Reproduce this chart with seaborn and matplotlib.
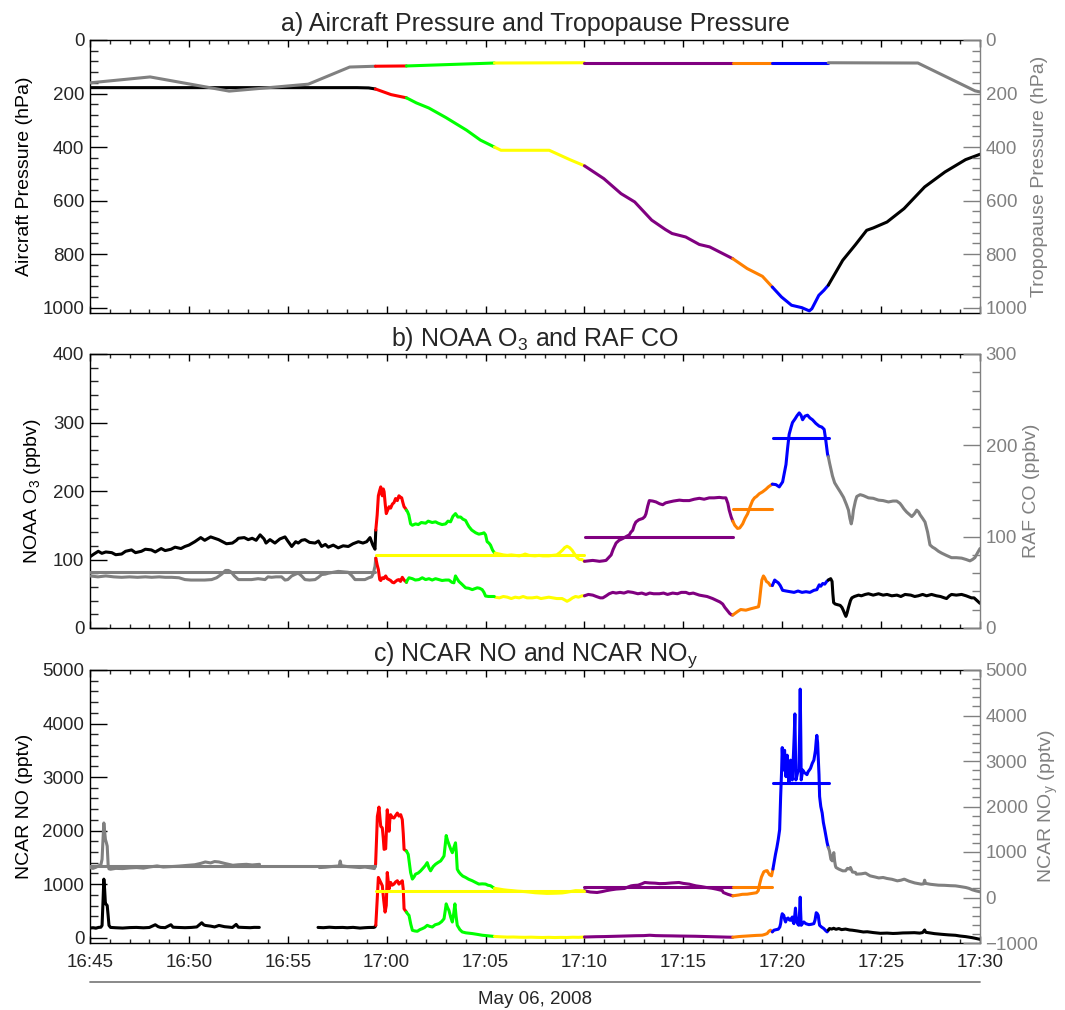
import numpy as np
import pandas as pd
import matplotlib
matplotlib.use("Agg")
import matplotlib.pyplot as plt
import seaborn as sns
from matplotlib.ticker import MultipleLocator, FuncFormatter
from matplotlib.lines import Line2D

sns.set_style("ticks")
plt.rcParams["font.family"] = ["Liberation Sans", "DejaVu Sans"]
plt.rcParams["mathtext.fontset"] = "custom"
plt.rcParams["mathtext.rm"] = "Liberation Sans"
plt.rcParams["mathtext.it"] = "Liberation Sans:italic"
plt.rcParams["mathtext.default"] = "regular"

NAN = float("nan")

# ---------------- flight-leg segments (minutes after 16:45) ----------------
SEG_BOUNDS = [0.0, 14.43, 16.0, 20.45, 25.0, 32.5, 34.5, 37.33, 46.0]
GRAY = "#808080"
SEG_LEFT_COLORS = ["black", "#ff0000", "#00ff00", "#ffff00", "#800080", "#ff8000", "#0000ff", "black"]
SEG_RIGHT_COLORS = [GRAY, "#ff0000", "#00ff00", "#ffff00", "#800080", "#ff8000", "#0000ff", GRAY]

# ---------------- a) pressures (hPa) ----------------
AIRCRAFT_P = [(0, 178), (5, 178), (10, 178), (13.5, 178), (14.09, 179), (14.43, 183), (15.22, 204),
              (16.0, 216), (16.5, 235), (17.13, 254), (18.0, 290), (19.04, 337), (19.74, 374),
              (20.45, 400), (20.78, 412), (22.19, 412), (23.22, 412), (24.26, 447), (25.0, 470),
              (25.98, 518), (26.85, 574), (27.54, 605), (28.4, 673), (29.09, 708), (29.43, 723),
              (30.12, 736), (30.81, 764), (31.33, 773), (32.5, 817), (33.23, 854), (34.0, 883),
              (34.5, 923), (34.96, 960), (35.47, 991), (35.99, 1000), (36.37, 1012), (36.5, 1004),
              (36.85, 954), (37.11, 935), (37.33, 916), (38.06, 823), (38.7, 765), (39.27, 711),
              (39.61, 702), (40.3, 680), (41.16, 630), (42.2, 549), (43.23, 493), (44.27, 447), (45.0, 427)]
TROPOPAUSE_P = [(0, 160), (3.04, 138), (7.04, 191), (11.04, 165), (13.13, 101), (14.43, 98), (16.0, 97),
                (20.45, 86), (25.0, 85), (32.5, 85), (34.5, 85), (37.33, 85), (41.86, 86), (44.75, 190), (45.0, 194)]

# ---------------- b) NOAA O3 (ppbv, left) and RAF CO (ppbv, right) ----------------
O3 = [(0.0, 104), (0.2, 108), (0.42, 112), (0.6, 109), (0.8, 111), (1.1, 110), (1.3, 107), (1.6, 108),
      (1.8, 112), (2.1, 114), (2.3, 110), (2.6, 112), (2.8, 115), (3.1, 114), (3.3, 111), (3.6, 116),
      (3.8, 113), (4.1, 115), (4.3, 118), (4.6, 116), (4.8, 119), (5.0, 121), (5.3, 126), (5.6, 132),
      (5.8, 128), (6.1, 133), (6.3, 131), (6.5, 129), (6.7, 126), (6.9, 123), (7.2, 124), (7.4, 128),
      (7.5, 131), (7.8, 132), (8.0, 129), (8.2, 131), (8.4, 128), (8.6, 136), (8.8, 130), (8.9, 124),
      (9.1, 129), (9.35, 124), (9.6, 130), (9.86, 133), (10.0, 127), (10.2, 119), (10.4, 126), (10.53, 124),
      (10.7, 128), (10.87, 129), (11.1, 125), (11.38, 124), (11.55, 127), (11.71, 119), (11.9, 122),
      (12.05, 118), (12.3, 121), (12.55, 117), (12.8, 120), (13.06, 119), (13.3, 123), (13.57, 126),
      (13.8, 124), (13.99, 126), (14.16, 132), (14.3, 121), (14.41, 115),
      (14.45, 143), (14.52, 165), (14.58, 193), (14.64, 200), (14.7, 206), (14.75, 196), (14.78, 193),
      (14.83, 203), (14.87, 199), (14.93, 180), (14.98, 167), (15.05, 172), (15.12, 177), (15.2, 175),
      (15.29, 181), (15.37, 183), (15.45, 189), (15.54, 186), (15.62, 193), (15.7, 191), (15.76, 190),
      (15.82, 183), (15.88, 177), (15.94, 175), (16.0, 172),
      (16.05, 170), (16.12, 165), (16.21, 152), (16.3, 150), (16.46, 152), (16.6, 151), (16.75, 154),
      (16.97, 153), (17.1, 156), (17.3, 154), (17.47, 155), (17.6, 153), (17.8, 151), (17.98, 152),
      (18.1, 156), (18.23, 155), (18.35, 163), (18.48, 167), (18.6, 162), (18.74, 162), (18.85, 159),
      (18.99, 157), (19.08, 152), (19.16, 148), (19.3, 143), (19.5, 139), (19.66, 137), (19.83, 138),
      (19.92, 139), (20.0, 136), (20.08, 126), (20.17, 124), (20.25, 121), (20.35, 114), (20.44, 110),
      (20.46, NAN),
      (20.48, 45), (20.7, 44), (20.9, 46), (21.1, 45), (21.3, 43), (21.5, 45), (21.7, 44), (21.9, 46),
      (22.1, 44), (22.36, 44), (22.6, 45), (22.8, 43), (23.0, 44), (23.2, 45), (23.4, 44), (23.6, 43),
      (23.87, 43), (24.0, 41), (24.12, 39), (24.25, 41), (24.4, 44), (24.55, 46), (24.7, 45), (24.88, 47),
      (25.0, 47), (25.2, 49), (25.42, 48), (25.6, 46), (25.8, 44), (25.93, 44), (26.1, 47), (26.25, 50),
      (26.43, 52), (26.6, 51), (26.8, 52), (27.0, 51), (27.2, 53), (27.44, 52), (27.7, 50), (27.9, 51),
      (28.11, 49), (28.3, 51), (28.5, 50), (28.79, 50), (29.0, 51), (29.2, 49), (29.46, 51), (29.7, 50),
      (29.9, 52), (30.13, 52), (30.3, 50), (30.5, 51), (30.81, 48), (31.0, 47), (31.2, 46), (31.48, 43),
      (31.7, 40), (31.85, 38), (31.99, 35), (32.1, 30), (32.24, 25), (32.35, 21), (32.45, 19),
      (32.5, 19), (32.74, 24), (32.9, 27), (33.16, 26), (33.4, 28), (33.67, 30), (33.8, 31), (33.84, 37),
      (33.92, 58), (33.97, 70), (34.05, 76), (34.12, 73), (34.2, 68), (34.3, 66), (34.4, 62),
      (34.5, 62), (34.62, 70), (34.7, 68), (34.8, 66), (34.9, 62), (35.02, 55), (35.2, 54), (35.4, 53),
      (35.6, 52), (35.8, 54), (36.0, 52), (36.2, 53), (36.4, 52), (36.6, 55), (36.75, 56), (36.87, 63),
      (36.95, 61), (37.05, 65), (37.15, 64), (37.25, 68),
      (37.33, 70), (37.45, 72), (37.52, 68), (37.56, 50), (37.6, 37), (37.68, 35), (37.8, 34), (37.93, 33),
      (38.02, 30), (38.1, 25), (38.17, 20), (38.22, 17), (38.28, 22), (38.35, 30), (38.45, 40), (38.52, 44),
      (38.65, 46), (38.86, 48), (39.0, 47), (39.2, 49), (39.36, 50), (39.6, 48), (39.87, 50), (40.1, 48),
      (40.3, 49), (40.54, 47), (40.8, 48), (41.0, 46), (41.21, 49), (41.5, 48), (41.7, 46), (41.88, 47),
      (42.1, 49), (42.3, 47), (42.55, 49), (42.8, 47), (43.0, 46), (43.2, 44), (43.31, 43), (43.45, 47),
      (43.56, 49), (43.8, 48), (44.07, 49), (44.3, 47), (44.57, 44), (44.7, 44), (44.85, 40), (45.0, 36)]

CO = [(0.0, 57), (0.4, 56), (0.8, 57), (1.2, 56), (1.6, 55.5), (2.0, 56), (2.4, 55.5), (2.8, 56),
      (3.12, 55.5), (3.5, 56), (3.8, 55.5), (4.13, 55.5), (4.5, 55), (4.8, 53), (5.1, 52.5), (5.48, 52.5),
      (5.8, 52.5), (6.15, 53), (6.4, 55), (6.66, 59), (6.85, 63), (7.0, 63), (7.15, 61), (7.3, 57),
      (7.5, 53), (7.8, 53), (8.17, 53), (8.5, 54), (8.85, 53), (9.0, 56), (9.18, 55.5), (9.4, 56),
      (9.69, 56), (9.86, 52.5), (10.0, 53), (10.2, 57), (10.4, 59), (10.53, 60), (10.7, 57), (10.87, 53),
      (11.1, 52.5), (11.38, 53), (11.55, 55.5), (11.71, 58.5), (11.9, 59), (12.05, 60), (12.3, 61),
      (12.55, 62), (12.8, 61.5), (13.06, 61), (13.25, 57), (13.4, 53), (13.6, 53), (13.9, 53), (14.1, 55),
      (14.24, 56), (14.33, 60), (14.38, 65), (14.41, 67.5),
      (14.45, 76.5), (14.52, 69), (14.58, 64), (14.65, 53), (14.7, 52), (14.78, 55), (14.85, 54),
      (14.95, 57), (15.03, 54), (15.12, 53), (15.2, 52), (15.29, 50), (15.37, 49.5), (15.45, 51),
      (15.54, 52.5), (15.62, 53), (15.7, 51), (15.79, 55.5), (15.88, 52.5), (16.0, 50),
      (16.05, 52.5), (16.13, 55), (16.3, 54), (16.45, 52.5), (16.63, 53), (16.8, 55), (16.97, 53),
      (17.14, 54), (17.3, 52.5), (17.47, 54), (17.64, 53), (17.8, 52), (17.98, 52.5), (18.15, 52.5),
      (18.3, 50), (18.4, 49.5), (18.48, 57), (18.56, 54), (18.65, 51), (18.8, 48), (18.99, 44),
      (19.15, 43.5), (19.33, 42), (19.45, 43), (19.58, 44), (19.7, 43.5), (19.83, 42), (19.92, 39),
      (20.0, 35), (20.15, 34.5), (20.25, 34.5), (20.44, 34.5),
      (20.46, NAN),
      (20.48, 82), (20.7, 81), (20.9, 80), (21.1, 79.5), (21.3, 80), (21.5, 79.5), (21.7, 79), (21.9, 80),
      (22.0, 81), (22.2, 79.5), (22.5, 79), (22.7, 79.5), (22.9, 79), (23.2, 79), (23.4, 79.5), (23.6, 80),
      (23.75, 82.5), (23.9, 85.5), (24.0, 88), (24.12, 89.5), (24.25, 88), (24.38, 85), (24.5, 81),
      (24.63, 77), (24.75, 75), (24.88, 75),
      (25.0, 73), (25.2, 73.5), (25.42, 74), (25.6, 73.5), (25.76, 73), (25.95, 73.5), (26.09, 74),
      (26.2, 76.5), (26.35, 80), (26.45, 86), (26.6, 93), (26.75, 96), (26.94, 98), (27.1, 100),
      (27.27, 102), (27.35, 105), (27.44, 107), (27.52, 112.5), (27.6, 116), (27.75, 118.5), (27.95, 120),
      (28.05, 122), (28.11, 125), (28.2, 133.5), (28.28, 139.5), (28.45, 139), (28.62, 138), (28.8, 136),
      (28.96, 135), (29.1, 137), (29.29, 138), (29.5, 139), (29.8, 140), (30.0, 139.5), (30.3, 139.5),
      (30.55, 141), (30.81, 142), (31.05, 141), (31.31, 142.5), (31.55, 142.5), (31.82, 143), (32.0, 142.5),
      (32.15, 142.5), (32.25, 136.5), (32.32, 129), (32.42, 121.5),
      (32.5, 117), (32.6, 112.5), (32.74, 109), (32.85, 109.5), (33.0, 114), (33.12, 120), (33.25, 125),
      (33.38, 133), (33.5, 139.5), (33.6, 142.5), (33.7, 144), (33.84, 147), (34.0, 149), (34.18, 152),
      (34.3, 154.5),
      (34.5, 157.5), (34.68, 157), (34.85, 154.5), (35.02, 160), (35.1, 169), (35.19, 179), (35.27, 196.5),
      (35.35, 212), (35.45, 220), (35.52, 225), (35.65, 229), (35.75, 232.5), (35.86, 235.5), (35.95, 233),
      (36.03, 228), (36.15, 232), (36.28, 233), (36.4, 230), (36.53, 228), (36.7, 224), (36.87, 221),
      (37.0, 220), (37.12, 217.5), (37.2, 206), (37.29, 190.5),
      (37.33, 187.5), (37.4, 180), (37.54, 166.5), (37.65, 159), (37.79, 154), (37.95, 148.5), (38.1, 143),
      (38.25, 135), (38.35, 129), (38.42, 120), (38.49, 114), (38.55, 120), (38.6, 129), (38.7, 139),
      (38.77, 144), (38.94, 146), (39.1, 145), (39.36, 142.5), (39.6, 142), (39.87, 140), (40.1, 139.5),
      (40.37, 138), (40.6, 139), (40.79, 139), (40.95, 136.5), (41.04, 134), (41.15, 130.5), (41.29, 127),
      (41.42, 124.5), (41.55, 122), (41.68, 125), (41.8, 129), (41.9, 127), (41.97, 124), (42.1, 120),
      (42.22, 116), (42.35, 105), (42.47, 91), (42.6, 88.5), (42.72, 87), (42.9, 84), (43.06, 82),
      (43.3, 79.5), (43.56, 77), (43.8, 77), (44.07, 76.5), (44.3, 75), (44.49, 73.5), (44.62, 75),
      (44.74, 77), (44.88, 82.5), (45.0, 87)]

CO_MEAN_VALUE = [61, 79.5, 100, 130, 208]
CO_MEAN_START = [0.0, 14.45, 25.05, 32.5, 34.55]
CO_MEAN_END = [14.43, 25.0, 32.5, 34.48, 37.35]

# ---------------- c) NCAR NO (pptv, left) and NCAR NOy (pptv, right) ----------------
NO = [(0.0, 179), (0.15, 185), (0.3, 176), (0.43, 191), (0.55, 195), (0.61, 228), (0.66, 700), (0.7, 1093),
      (0.74, 900), (0.78, 630), (0.83, 620), (0.87, 599), (0.92, 400), (0.96, 228), (1.04, 191), (1.3, 185),
      (1.65, 179), (2.0, 188), (2.35, 191), (2.7, 184), (3.0, 190), (3.3, 241), (3.45, 205), (3.57, 191),
      (3.8, 187), (4.09, 241), (4.2, 195), (4.43, 191), (4.8, 186), (5.13, 191), (5.4, 200), (5.65, 278),
      (5.75, 240), (5.83, 228), (6.1, 215), (6.3, 200), (6.52, 228), (6.8, 205), (7.0, 198), (7.2, 190),
      (7.39, 247), (7.5, 195), (7.8, 190), (8.1, 186), (8.3, 192), (8.56, 191),
      (10.0, NAN),
      (11.53, 191), (11.8, 186), (12.1, 195), (12.4, 188), (12.78, 191), (13.0, 185), (13.3, 192),
      (13.65, 179), (13.9, 186), (14.1, 190), (14.35, 191), (14.41, 200),
      (14.45, 230), (14.52, 700), (14.58, 1125), (14.64, 1080), (14.7, 1032), (14.78, 970), (14.85, 700),
      (14.92, 477), (14.98, 600), (15.03, 1217), (15.08, 1050), (15.12, 909), (15.2, 1032), (15.28, 980),
      (15.37, 1001), (15.45, 1040), (15.54, 1063), (15.62, 1000), (15.71, 1032), (15.79, 1063), (15.84, 900),
      (15.88, 538), (16.0, 477),
      (16.05, 450), (16.13, 415), (16.22, 250), (16.3, 137), (16.42, 125), (16.55, 119), (16.68, 150),
      (16.8, 168), (16.92, 190), (17.05, 230), (17.18, 210), (17.31, 199), (17.45, 240), (17.64, 261),
      (17.78, 300), (17.9, 353), (17.96, 500), (18.01, 631), (18.08, 560), (18.15, 508), (18.24, 380),
      (18.32, 292), (18.39, 450), (18.45, 631), (18.51, 400), (18.57, 230), (18.7, 150), (18.82, 107),
      (19.0, 90), (19.33, 76), (19.6, 60), (19.83, 45), (20.1, 35),
      (20.45, 22), (20.8, 15), (21.1, 10), (21.4, 12), (21.7, 8), (22.0, 6), (22.3, 9), (22.6, 5),
      (22.9, 3), (23.2, 6), (23.5, 2), (23.8, 5), (24.1, 3), (24.4, 8), (24.7, 6),
      (25.0, 12), (25.3, 15), (25.6, 18), (26.0, 20), (26.4, 24), (26.8, 28), (27.2, 32), (27.6, 36),
      (28.0, 38), (28.3, 45), (28.6, 38), (29.0, 35), (29.4, 33), (29.8, 30), (30.2, 28), (30.6, 26),
      (31.0, 22), (31.4, 18), (31.8, 14), (32.2, 10),
      (32.5, 8), (32.8, 20), (32.98, 25), (33.2, 30), (33.48, 37), (33.7, 42), (33.99, 46), (34.12, 60),
      (34.24, 77), (34.33, 120), (34.41, 139),
      (34.5, 108), (34.58, 139), (34.7, 150), (34.8, 157), (34.88, 200), (34.92, 262), (34.96, 380),
      (35.0, 447), (35.04, 430), (35.08, 416), (35.13, 330), (35.17, 293), (35.22, 350), (35.3, 367),
      (35.36, 330), (35.42, 324), (35.47, 360), (35.51, 385), (35.55, 300), (35.59, 262), (35.63, 400),
      (35.67, 552), (35.7, 400), (35.74, 293), (35.79, 250), (35.84, 231), (35.88, 500), (35.91, 756),
      (35.93, 500), (35.96, 231), (36.02, 260), (36.09, 293), (36.2, 260), (36.35, 243), (36.48, 250),
      (36.6, 262), (36.66, 330), (36.72, 466), (36.77, 450), (36.82, 416), (36.86, 300), (36.89, 231),
      (36.98, 200), (37.1, 170), (37.2, 130), (37.27, 108),
      (37.33, 140), (37.39, 170), (37.5, 160), (37.6, 175), (37.72, 156), (37.86, 170), (38.0, 150),
      (38.2, 160), (38.41, 143), (38.54, 139), (38.8, 125), (39.1, 106), (39.3, 110), (39.6, 95),
      (39.96, 81), (40.3, 85), (40.6, 78), (40.82, 81), (41.1, 88), (41.4, 90), (41.68, 93), (41.95, 85),
      (42.1, 95), (42.2, 143), (42.26, 100), (42.38, 93), (42.7, 75), (43.07, 62), (43.4, 52), (43.76, 44),
      (44.0, 30), (44.28, 19), (44.6, 0), (44.8, -15), (45.0, -31)]

NOY = [(0.0, 658), (0.15, 640), (0.3, 665), (0.43, 694), (0.55, 720), (0.61, 839), (0.66, 1300), (0.7, 1638),
       (0.74, 1450), (0.78, 1274), (0.83, 1200), (0.87, 1129), (0.92, 694), (0.96, 630), (1.04, 621),
       (1.3, 640), (1.65, 635), (2.0, 650), (2.35, 658), (2.7, 645), (3.0, 670), (3.39, 694), (3.7, 670),
       (4.09, 679), (4.5, 690), (4.96, 708), (5.3, 720), (5.6, 750), (5.83, 781), (6.1, 760), (6.3, 790),
       (6.52, 781), (6.8, 750), (7.0, 730), (7.22, 708), (7.5, 720), (7.91, 729), (8.2, 715), (8.57, 729),
       (10.0, NAN),
       (11.6, 658), (11.9, 665), (12.2, 680), (12.5, 690), (12.6, 694), (12.65, 802), (12.7, 700),
       (13.0, 680), (13.3, 670), (13.65, 658), (13.9, 670), (14.2, 650), (14.38, 635),
       (14.44, 731), (14.49, 1300), (14.53, 1784), (14.58, 1900), (14.61, 1987), (14.66, 1750), (14.7, 1566),
       (14.78, 1529), (14.83, 1300), (14.87, 1058), (14.95, 1072), (14.99, 1500), (15.03, 1928),
       (15.08, 1700), (15.12, 1456), (15.16, 1700), (15.2, 1820), (15.28, 1760), (15.37, 1747),
       (15.45, 1800), (15.54, 1856), (15.62, 1790), (15.71, 1820), (15.79, 1711), (15.84, 1400),
       (15.88, 1058), (16.0, 1021),
       (16.09, 948), (16.15, 750), (16.21, 549), (16.3, 405), (16.38, 450), (16.46, 513), (16.6, 540),
       (16.72, 586), (16.85, 650), (16.95, 700), (17.05, 767), (17.14, 650), (17.22, 586), (17.35, 680),
       (17.47, 731), (17.6, 770), (17.73, 804), (17.82, 860), (17.9, 913), (17.96, 1150), (18.01, 1362),
       (18.08, 1250), (18.15, 1167), (18.25, 1050), (18.32, 985), (18.4, 1100), (18.48, 1202), (18.52, 1000),
       (18.57, 622), (18.65, 560), (18.74, 513), (18.85, 470), (18.99, 441), (19.15, 400), (19.33, 368),
       (19.5, 330), (19.66, 295), (19.83, 300), (20.0, 295), (20.12, 270), (20.25, 259),
       (20.45, 201), (20.67, 187), (20.9, 170), (21.1, 160), (21.35, 151), (21.6, 140), (21.8, 135),
       (22.02, 128), (22.3, 115), (22.5, 105), (22.69, 100), (22.9, 95), (23.1, 90), (23.37, 92), (23.6, 95),
       (23.87, 100), (24.1, 115), (24.35, 135), (24.55, 151), (24.8, 148),
       (25.0, 147), (25.3, 120), (25.64, 110), (25.9, 130), (26.1, 150), (26.33, 168), (26.6, 185),
       (27.02, 198), (27.2, 230), (27.36, 256), (27.5, 265), (27.71, 271), (27.9, 300), (28.05, 330),
       (28.3, 320), (28.57, 315), (28.8, 305), (29.09, 308), (29.4, 320), (29.78, 330), (30.0, 310),
       (30.3, 293), (30.5, 270), (30.64, 256), (30.9, 240), (31.16, 220), (31.46, 202), (31.68, 183),
       (31.97, 152), (32.02, 110), (32.25, 70),
       (32.5, 37), (32.8, 55), (32.98, 70), (33.23, 73), (33.48, 90), (33.7, 105), (33.79, 151), (33.86, 300),
       (33.95, 450), (34.07, 566), (34.17, 586), (34.24, 590), (34.3, 540), (34.36, 500), (34.46, 476),
       (34.53, 624), (34.6, 800), (34.66, 951), (34.73, 1100), (34.8, 1276), (34.87, 1494), (34.92, 2220),
       (34.97, 2801), (35.0, 3295), (35.05, 2801), (35.09, 3100), (35.12, 3236), (35.16, 2800), (35.19, 2656),
       (35.22, 2900), (35.25, 3128), (35.3, 2700), (35.34, 2511), (35.38, 2800), (35.42, 3019), (35.47, 2750),
       (35.51, 2584), (35.54, 2900), (35.57, 3165), (35.61, 3600), (35.64, 4035), (35.67, 3200), (35.69, 2584),
       (35.73, 2650), (35.77, 2728), (35.81, 2780), (35.84, 2801), (35.88, 3600), (35.91, 4580), (35.94, 3500),
       (35.96, 2584), (36.0, 2700), (36.04, 2801), (36.1, 2750), (36.18, 2728), (36.25, 2700), (36.31, 2765),
       (36.37, 2800), (36.43, 2838), (36.52, 2950), (36.6, 3019), (36.65, 3150), (36.68, 3236), (36.72, 3450),
       (36.75, 3564), (36.79, 3400), (36.82, 3092), (36.86, 2700), (36.89, 2220), (36.95, 2000), (37.02, 1858),
       (37.08, 1650), (37.15, 1494), (37.21, 1350), (37.27, 1205),
       (37.33, 1100), (37.39, 1022), (37.46, 842), (37.53, 805), (37.58, 950), (37.61, 986), (37.65, 800),
       (37.69, 697), (37.72, 659), (37.86, 624), (38.06, 586), (38.2, 587), (38.3, 640), (38.41, 623),
       (38.45, 660), (38.55, 560), (38.7, 551), (38.75, 513), (39.0, 520), (39.21, 536), (39.44, 476),
       (39.7, 450), (39.88, 430), (40.1, 440), (40.3, 418), (40.55, 400), (40.82, 366), (41.0, 380),
       (41.17, 403), (41.4, 360), (41.7, 320), (42.03, 293), (42.15, 300), (42.2, 380), (42.25, 310),
       (42.5, 290), (42.9, 271), (43.2, 268), (43.5, 260), (43.76, 256), (44.0, 240), (44.28, 220),
       (44.45, 200), (44.62, 168), (44.8, 145), (45.0, 125)]

NOY_MEAN_VALUE = [700, 135, 225, 235, 2510]
NOY_MEAN_START = [0.0, 14.45, 25.0, 32.5, 34.53]
NOY_MEAN_END = [14.43, 25.0, 32.5, 34.48, 37.35]
MEAN_COLORS = [GRAY, "#ffff00", "#800080", "#ff8000", "#0000ff"]

LW = 2.2
TICK_FS = 13.5
LABEL_FS = 14
TITLE_FS = 18


def split_chunks(points, colors, tag):
    """Split a series at leg boundaries (keeping the next point as joiner) and at NaN gaps."""
    rows, pal = [], {}
    cid, cur, cur_seg = 0, [], None

    def close():
        nonlocal cid, cur
        if len(cur) >= 2:
            name = f"{tag}{cid}"
            pal[name] = colors[cur_seg]
            rows.extend((t, v, name) for t, v in cur)
            cid += 1
        cur = []

    for t, v in points:
        if np.isnan(v):
            close()
            cur_seg = None
            continue
        s = int(np.searchsorted(SEG_BOUNDS, t, side="right") - 1)
        if cur_seg is None:
            cur_seg, cur = s, [(t, v)]
        elif s != cur_seg:
            cur.append((t, v))
            close()
            cur_seg, cur = s, [(t, v)]
        else:
            cur.append((t, v))
    close()
    return pd.DataFrame(rows, columns=["t", "v", "chunk"]), pal


def draw_series(ax, points, colors, tag):
    df, pal = split_chunks(points, colors, tag)
    sns.lineplot(data=df, x="t", y="v", hue="chunk", units="chunk", estimator=None, sort=False,
                 palette=pal, legend=False, linewidth=LW, ax=ax)


def draw_means(ax, values, starts, ends, tag):
    rows, pal = [], {}
    for i, (v, a, b) in enumerate(zip(values, starts, ends)):
        name = f"{tag}{i}"
        rows += [(a, v, name), (b, v, name)]
        pal[name] = MEAN_COLORS[i]
    df = pd.DataFrame(rows, columns=["t", "v", "chunk"])
    sns.lineplot(data=df, x="t", y="v", hue="chunk", units="chunk", estimator=None, sort=False,
                 palette=pal, legend=False, linewidth=LW, ax=ax)


def time_fmt(m, pos):
    tot = 45 + int(round(m))
    return f"{16 + tot // 60}:{tot % 60:02d}"


def style(ax, ax2, ylim_l, ylim_r, maj_l, min_l, maj_r, min_r, xlabels, ylab_l, ylab_r, rlab_x):
    ax.set_xlim(0, 45)
    ax.set_ylim(*ylim_l)
    ax2.set_ylim(*ylim_r)
    ax.xaxis.set_major_locator(MultipleLocator(5))
    ax.xaxis.set_minor_locator(MultipleLocator(1))
    ax.xaxis.set_major_formatter(FuncFormatter(time_fmt))
    ax.yaxis.set_major_locator(MultipleLocator(maj_l))
    ax.yaxis.set_minor_locator(MultipleLocator(min_l))
    ax2.yaxis.set_major_locator(MultipleLocator(maj_r))
    ax2.yaxis.set_minor_locator(MultipleLocator(min_r))
    ax.tick_params(axis="x", which="major", direction="in", top=True, bottom=True, length=5, width=1,
                   labelsize=TICK_FS, pad=8, labelbottom=xlabels, color="black")
    ax.tick_params(axis="x", which="minor", direction="in", top=True, bottom=True, length=2.8, width=1)
    ax.tick_params(axis="y", which="major", direction="in", left=True, right=False, length=12.5, width=1,
                   labelsize=TICK_FS, pad=4, color="black")
    ax.tick_params(axis="y", which="minor", direction="in", left=True, right=False, length=6, width=1)
    ax2.tick_params(axis="y", which="major", direction="in", right=True, left=False, length=12.5, width=1,
                    labelsize=TICK_FS, pad=4, color=GRAY, labelcolor=GRAY)
    ax2.tick_params(axis="y", which="minor", direction="in", right=True, left=False, length=6, width=1,
                    color=GRAY)
    for sp in ["left", "top", "bottom"]:
        ax.spines[sp].set_color("black")
        ax.spines[sp].set_linewidth(1.0)
        ax2.spines[sp].set_visible(False)
    ax.spines["right"].set_visible(False)
    ax2.spines["right"].set_color(GRAY)
    ax2.spines["right"].set_linewidth(1.0)
    ax.set_xlabel("")
    ax2.set_xlabel("")
    ax.set_ylabel(ylab_l, fontsize=LABEL_FS, labelpad=7, color="black")
    ax2.set_ylabel(ylab_r, fontsize=LABEL_FS, color=GRAY, rotation=90, va="center", ha="center")
    ax2.yaxis.set_label_coords(rlab_x, 0.5)


fig = plt.figure(figsize=(10.65, 10.10), dpi=100)
W, H = 1065.0, 1010.0
X0, XW = 90 / W, 890 / W
axa = fig.add_axes([X0, 1 - 313 / H, XW, 273 / H])
axb = fig.add_axes([X0, 1 - 628 / H, XW, 274 / H])
axc = fig.add_axes([X0, 1 - 943 / H, XW, 273 / H])
axa2, axb2, axc2 = axa.twinx(), axb.twinx(), axc.twinx()

# a)
draw_series(axa, AIRCRAFT_P, SEG_LEFT_COLORS, "ac")
draw_series(axa2, TROPOPAUSE_P, SEG_RIGHT_COLORS, "tp")
style(axa, axa2, (1020, 0), (1020, 0), 200, 40, 200, 40, False,
      "Aircraft Pressure (hPa)", "Tropopause Pressure (hPa)", (1040 - 90) / 890)

# b)
draw_series(axb, O3, SEG_LEFT_COLORS, "o3")
draw_series(axb2, CO, SEG_RIGHT_COLORS, "co")
draw_means(axb2, CO_MEAN_VALUE, CO_MEAN_START, CO_MEAN_END, "com")
style(axb, axb2, (0, 400), (0, 300), 100, 20, 100, 20, False,
      "NOAA O$_3$ (ppbv)", "RAF CO (ppbv)", (1032 - 90) / 890)

# c)
draw_series(axc, NO, SEG_LEFT_COLORS, "no")
draw_series(axc2, NOY, SEG_RIGHT_COLORS, "ny")
draw_means(axc2, NOY_MEAN_VALUE, NOY_MEAN_START, NOY_MEAN_END, "nym")
style(axc, axc2, (-100, 5000), (-1000, 5000), 1000, 200, 1000, 200, True,
      "NCAR NO (pptv)", "NCAR NO$_y$ (pptv)", (1048 - 90) / 890)

xc = (90 + 980) / 2 / W
fig.text(xc, 1 - 31 / H, "a) Aircraft Pressure and Tropopause Pressure", ha="center", va="baseline", fontsize=TITLE_FS)
fig.text(xc, 1 - 346 / H, "b) NOAA O$_3$ and RAF CO", ha="center", va="baseline", fontsize=TITLE_FS)
fig.text(xc, 1 - 661 / H, "c) NCAR NO and NCAR NO$_y$", ha="center", va="baseline", fontsize=TITLE_FS)

fig.add_artist(Line2D([X0, X0 + XW], [1 - 982 / H] * 2, color=GRAY, lw=1.3))
fig.text(xc, 1 - 1004 / H, "May 06, 2008", ha="center", va="baseline", fontsize=13.5)

fig.savefig("out.png", dpi=100)
